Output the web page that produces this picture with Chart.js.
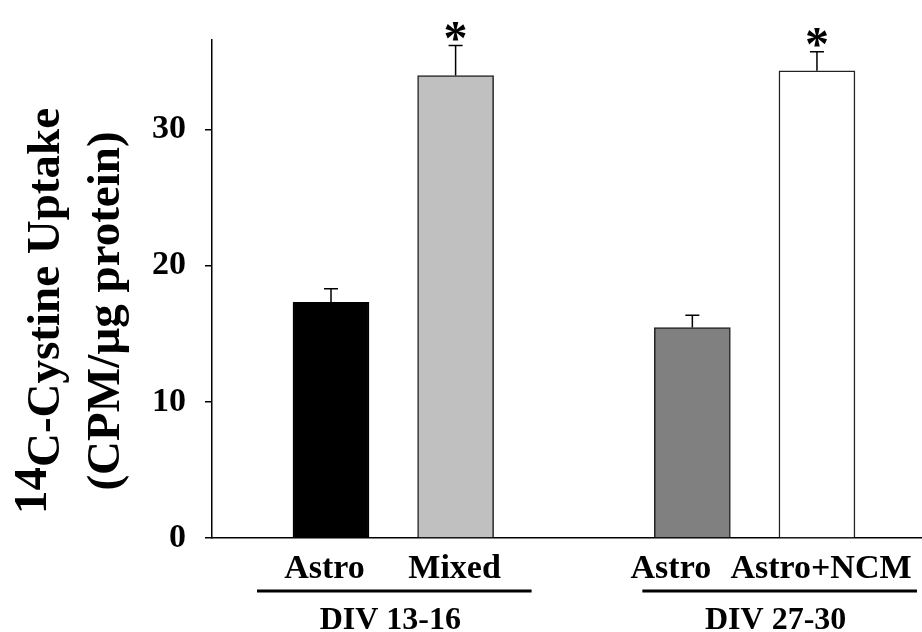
<!DOCTYPE html>
<html>
<head>
<meta charset="utf-8">
<script src="https://cdn.jsdelivr.net/npm/chart.js@4.4.1/dist/chart.umd.min.js"></script>
<style>
    html, body { margin: 0; padding: 0; background: #fff; }
    #wrap { width: 922px; height: 632px; position: relative; }
</style>
</head>
<body>
<div id="wrap"><canvas id="uptakeChart"></canvas></div>
<script>
// ===== DATA =====
const groupLabels = ['DIV 13-16', 'DIV 27-30'];
const barLabels = ['Astro', 'Mixed', 'Astro', 'Astro+NCM'];
const barGroup = [0, 0, 1, 1];
const uptakeMean = [17.3, 33.95, 15.45, 34.3];
const uptakeSem = [1.0, 2.2, 0.9, 1.4];
const significant = [false, true, false, true];
const yTicks = [0, 10, 20, 30];
const isotope = '14';
const yTitleLines = ['C-Cystine Uptake', '(CPM/µg protein)'];

// ===== STYLE =====
const serif = "'Liberation Serif', 'Times New Roman', serif";
const barColors = ['#000000', '#c0c0c0', '#808080', '#ffffff'];
const labelShift = [-6.5, -1, -21.5, 4];
const underlinePad = [[74, 76], [50, 100]];
const groupGap = 2.9;

// bar positions on the x scale: one unit per bar, wider step between groups
const barPos = barLabels.map((_, i) => {
    const first = barGroup.indexOf(barGroup[i]);
    return barGroup[i] * groupGap + (i - first);
});

const decor = {
    id: 'decor',
    afterDraw(chart) {
        const ctx = chart.ctx;
        const xs = chart.scales.x;
        const ys = chart.scales.y;
        ctx.save();
        ctx.strokeStyle = '#000';
        ctx.fillStyle = '#000';

        // error bars + asterisks
        barPos.forEach((p, i) => {
            const x = xs.getPixelForValue(p);
            const yBar = ys.getPixelForValue(uptakeMean[i]);
            const yTop = ys.getPixelForValue(uptakeMean[i] + uptakeSem[i]);
            ctx.lineWidth = 1.5;
            ctx.beginPath();
            ctx.moveTo(x, yBar);
            ctx.lineTo(x, yTop);
            ctx.moveTo(x - 7, yTop);
            ctx.lineTo(x + 7, yTop);
            ctx.stroke();
            if (significant[i]) {
                ctx.font = 'bold 48px ' + serif;
                ctx.textAlign = 'center';
                ctx.textBaseline = 'alphabetic';
                const m = ctx.measureText('*');
                ctx.fillText('*', x, yTop - 4.5 - m.actualBoundingBoxDescent);
            }
        });

        // category labels
        ctx.font = 'bold 34px ' + serif;
        ctx.textAlign = 'center';
        ctx.textBaseline = 'alphabetic';
        barLabels.forEach((lab, i) => {
            ctx.fillText(lab, xs.getPixelForValue(barPos[i]) + labelShift[i], 578);
        });

        // group underlines + labels
        groupLabels.forEach((g, gi) => {
            const idx = barGroup.map((v, i) => v === gi ? i : -1).filter(i => i >= 0);
            const x0 = xs.getPixelForValue(barPos[idx[0]]) - underlinePad[gi][0];
            const x1 = xs.getPixelForValue(barPos[idx[idx.length - 1]]) + underlinePad[gi][1];
            ctx.lineWidth = 3;
            ctx.beginPath();
            ctx.moveTo(x0, 591);
            ctx.lineTo(x1, 591);
            ctx.stroke();
            ctx.font = 'bold 32px ' + serif;
            ctx.fillText(g, (x0 + x1) / 2 - 4, 629);
        });

        // y title (rotated, raised isotope number)
        ctx.translate(0, 311);
        ctx.rotate(-Math.PI / 2);
        ctx.font = 'bold 47px ' + serif;
        ctx.textAlign = 'left';
        const wIso = ctx.measureText(isotope).width;
        const wRest = ctx.measureText(yTitleLines[0]).width;
        const start = -(wIso + wRest) / 2;
        ctx.fillText(isotope, start, 59 - 13);
        ctx.fillText(yTitleLines[0], start + wIso, 59);
        ctx.textAlign = 'center';
        ctx.fillText(yTitleLines[1], 0, 119);
        ctx.restore();
    }
};

new Chart(document.getElementById('uptakeChart'), {
    type: 'bar',
    data: {
        datasets: [{
            data: barPos.map((p, i) => ({ x: p, y: uptakeMean[i] })),
            backgroundColor: barColors,
            borderColor: ['#000', '#222', '#222', '#222'],
            borderWidth: 1.5,
            barThickness: 76,
        }]
    },
    options: {
        responsive: true,
        maintainAspectRatio: false,
        animation: false,
        layout: {
            padding: { top: 35, right: 0, bottom: 0, left: 0 }
        },
        plugins: {
            legend: { display: false },
            tooltip: { enabled: false }
        },
        scales: {
            x: {
                type: 'linear',
                min: -0.955,
                max: 4.743,
                offset: false,
                grid: { display: false },
                border: { display: true, color: '#000', width: 1.5 },
                ticks: { display: false },
                afterFit: scale => { scale.height = 94; }
            },
            y: {
                min: 0,
                max: 36.6,
                grid: {
                    drawOnChartArea: false,
                    drawTicks: true,
                    tickLength: 7,
                    color: '#000',
                    lineWidth: 1.5
                },
                border: { display: true, color: '#000', width: 1.5 },
                ticks: {
                    padding: 19,
                    color: '#000',
                    font: { family: serif, size: 34, weight: 'bold' }
                },
                afterBuildTicks: scale => {
                    scale.ticks = yTicks.map(v => ({ value: v }));
                },
                afterFit: scale => { scale.width = 212; }
            }
        }
    },
    plugins: [decor]
});
</script>
</body>
</html>
